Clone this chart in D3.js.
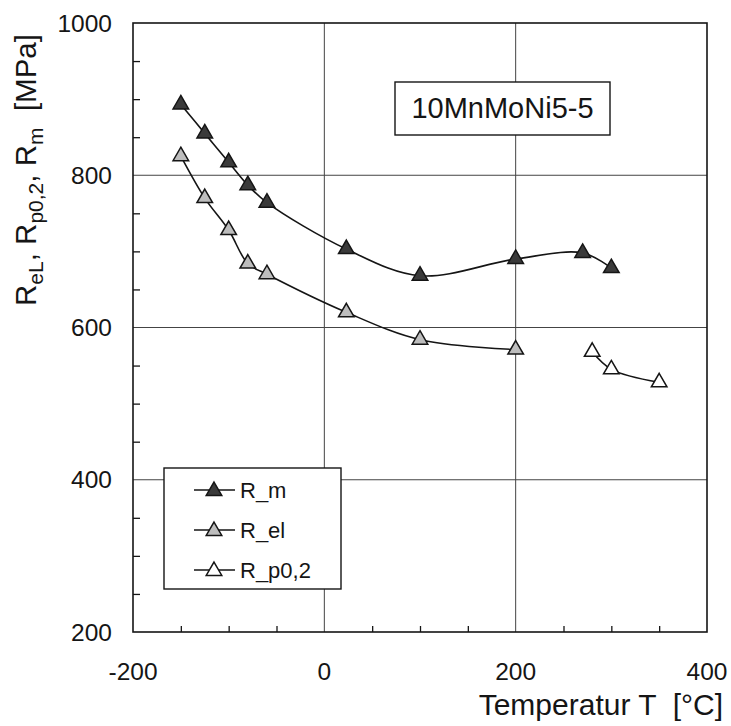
<!DOCTYPE html>
<html>
<head>
<meta charset="utf-8">
<script src="https://cdn.jsdelivr.net/npm/d3@7"></script>
<style>
html,body{margin:0;padding:0;background:#fff;}
svg{display:block;font-family:"Liberation Sans",Arial,Helvetica,sans-serif;}
text{white-space:pre;}
</style>
</head>
<body>
<svg id="chart" width="731" height="726"></svg>
<script>
// ---- data ----
const tempRm  = [-150, -125, -100, -80, -60, 23, 100, 200, 270, 300];
const valRm   = [893, 855, 817, 787, 764, 703, 668, 690, 698, 678];
const tempRel = [-150, -125, -100, -80, -60, 23, 100, 200];
const valRel  = [825, 770, 728, 684, 670, 620, 584, 571];
const tempRp  = [280, 300, 350];
const valRp   = [568, 545, 528];
const xTicks  = [-200, 0, 200, 400];
const yTicks  = [200, 400, 600, 800, 1000];
const seriesNames = ["R_m", "R_el", "R_p0,2"];
const materialLabel = "10MnMoNi5-5";

// ---- layout ----
const W = 731, H = 726;
const m = {left: 133, top: 23, right: 24, bottom: 94};
const svg = d3.select("#chart");
const x = d3.scaleLinear().domain([-200, 400]).range([m.left, W - m.right]);
const y = d3.scaleLinear().domain([200, 1000]).range([H - m.bottom, m.top]);

const ink = "#151515";
const fills = ["#3a3a3a", "#bdbdbd", "#ffffff"];

// grid
const g = svg.append("g");
g.selectAll(".gx").data(xTicks.slice(1, -1)).join("line")
  .attr("x1", d => x(d)).attr("x2", d => x(d))
  .attr("y1", y(200)).attr("y2", y(1000))
  .attr("stroke", "#444").attr("stroke-width", 1);
g.selectAll(".gy").data(yTicks.slice(1, -1)).join("line")
  .attr("x1", x(-200)).attr("x2", x(400))
  .attr("y1", d => y(d)).attr("y2", d => y(d))
  .attr("stroke", "#444").attr("stroke-width", 1);

// minor ticks (inside)
const xMinor = d3.range(-200, 401, 50).filter(v => v % 200 !== 0);
const yMinor = d3.range(200, 1001, 50).filter(v => v % 200 !== 0);
const xAxis = d3.axisBottom(x).tickValues(xMinor).tickSize(-6).tickFormat("");
const yAxis = d3.axisLeft(y).tickValues(yMinor).tickSize(-7).tickFormat("");
const xa = svg.append("g").attr("transform", `translate(0,${y(200)})`).call(xAxis);
const ya = svg.append("g").attr("transform", `translate(${x(-200)},0)`).call(yAxis);
[xa, ya].forEach(a => {
  a.select(".domain").remove();
  a.selectAll("line").attr("stroke", ink).attr("stroke-width", 1.3);
});

// frame
svg.append("rect")
  .attr("x", x(-200)).attr("y", y(1000))
  .attr("width", x(400) - x(-200)).attr("height", y(200) - y(1000))
  .attr("fill", "none").attr("stroke", ink).attr("stroke-width", 1.6);

// tick labels
svg.selectAll(".xl").data(xTicks).join("text")
  .attr("x", d => x(d)).attr("y", y(200) + 48)
  .attr("text-anchor", "middle").attr("font-size", 24.5).attr("fill", ink)
  .text(d => d);
svg.selectAll(".yl").data(yTicks).join("text")
  .attr("x", x(-200) - 21).attr("y", d => y(d)).attr("dy", "0.35em")
  .attr("text-anchor", "end").attr("font-size", 24.5).attr("fill", ink)
  .text(d => d);

// axis titles
svg.append("text")
  .attr("x", W - 8).attr("y", 715)
  .attr("text-anchor", "end").attr("font-size", 30).attr("fill", ink)
  .text("Temperatur T  [°C]");

const yt = svg.append("text")
  .attr("transform", "translate(36,170) rotate(-90)")
  .attr("text-anchor", "middle").attr("font-size", 29.5).attr("fill", ink);
const parts = [["R", false], ["eL", true], [", R", false], ["p0,2", true], [", R", false], ["m", true], ["  [MPa]", false]];
let sub = false;
parts.forEach(([t, s]) => {
  const ts = yt.append("tspan").text(t);
  if (s && !sub) { ts.attr("dy", 7).attr("font-size", 21); }
  else if (!s && sub) { ts.attr("dy", -7); }
  else if (s) { ts.attr("font-size", 21); }
  sub = s;
});

// material label box
svg.append("rect").attr("x", 395).attr("y", 82).attr("width", 215).attr("height", 53)
  .attr("fill", "#fff").attr("stroke", ink).attr("stroke-width", 1.4);
svg.append("text").attr("x", 502.5).attr("y", 118)
  .attr("text-anchor", "middle").attr("font-size", 29).attr("fill", ink)
  .text(materialLabel);

// series
const series = [
  {t: tempRm, v: valRm},
  {t: tempRel, v: valRel},
  {t: tempRp, v: valRp}
];
const line = d3.line().x(d => x(d[0])).y(d => y(d[1])).curve(d3.curveCatmullRom.alpha(0.5));
const tri = d3.symbol().type(d3.symbolTriangle).size(105);

series.forEach((s, i) => {
  const pts = s.t.map((t, k) => [t, s.v[k]]);
  svg.append("path").attr("d", line(pts))
    .attr("fill", "none").attr("stroke", ink).attr("stroke-width", 1.6);
  svg.append("g").selectAll("path").data(pts).join("path")
    .attr("transform", d => `translate(${x(d[0])},${y(d[1])})`)
    .attr("d", tri)
    .attr("fill", fills[i]).attr("stroke", ink).attr("stroke-width", 1.5);
});

// legend
const lg = svg.append("g");
lg.append("rect").attr("x", 164).attr("y", 468).attr("width", 177).attr("height", 121)
  .attr("fill", "#fff").attr("stroke", ink).attr("stroke-width", 1.4);
seriesNames.forEach((name, i) => {
  const cy = 490 + i * 40;
  lg.append("line").attr("x1", 194).attr("x2", 235).attr("y1", cy).attr("y2", cy)
    .attr("stroke", ink).attr("stroke-width", 1.5);
  lg.append("path").attr("transform", `translate(214,${cy + 1})`).attr("d", tri)
    .attr("fill", fills[i]).attr("stroke", ink).attr("stroke-width", 1.5);
  lg.append("text").attr("x", 240).attr("y", cy + 8).attr("font-size", 22).attr("fill", ink)
    .text(name);
});
</script>
</body>
</html>
